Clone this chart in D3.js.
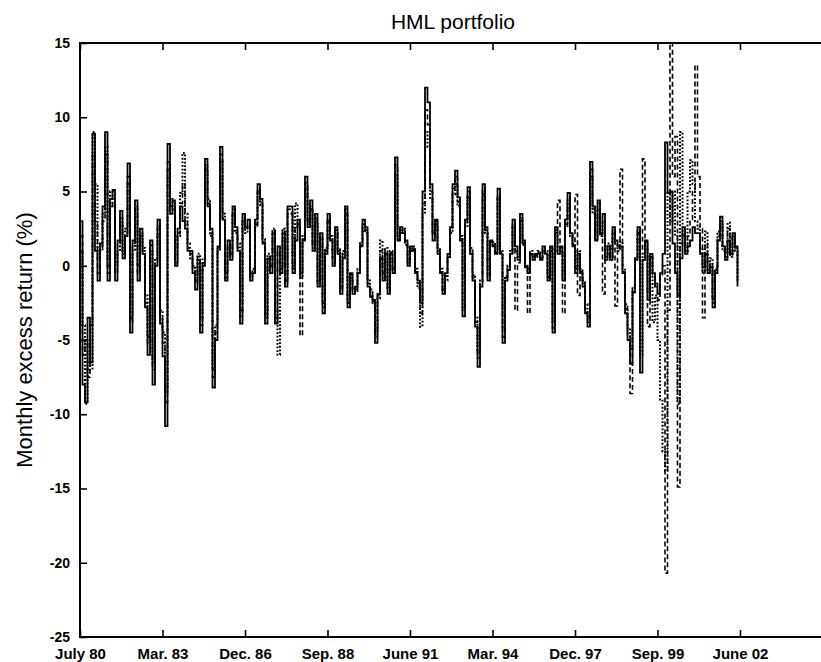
<!DOCTYPE html>
<html>
<head>
<meta charset="utf-8">
<script src="https://cdn.jsdelivr.net/npm/d3@7"></script>
<style>
  body { margin: 0; background: #fff; }
  svg text { fill: #000; }
</style>
</head>
<body>
<svg id="chart" width="821" height="662"></svg>
<script>
// Month positions of the labelled x ticks (months since July 1980) and their labels
const tickMonths = [0, 33, 66, 99, 132, 165, 198, 231, 264];
const tickLabels = ["July 80", "Mar. 83", "Dec. 86", "Sep. 88", "June 91", "Mar. 94", "Dec. 97", "Sep. 99", "June 02"];
const yTicks = [15, 10, 5, 0, -5, -10, -15, -20, -25];

// Monthly excess returns (%) of the HML portfolio, July 1980 onwards
const seriesSolid = [
  3.0, -8.0, -9.2, -3.5, -6.5, 8.9, 1.0, -1.0, 1.5, 4.0, 9.0, -1.0,
  4.5, 5.1, -1.0, 1.7, 3.7, 0.5, 2.0, 6.9, -4.5, 1.7, 4.4, -1.0,
  2.5, 0.8, -2.8, -6.0, 1.7, -8.0, 0.0, 3.1, -3.9, -6.1, -10.8, 8.2,
  3.5, 4.4, 0.0, 2.5, 4.0, 3.0, 2.5, 1.0, 1.0, -0.5, -1.6, 0.4,
  -4.5, 0.0, 7.2, 4.0, 2.5, -8.2, -5.0, 1.3, 8.0, 3.1, -1.0, 1.7,
  0.4, 4.0, 2.6, 1.0, -3.9, 3.5, 2.6, 3.1, -1.0, -0.5, 3.1, 5.5,
  4.5, 1.5, -3.9, 0.5, -0.5, 2.2, -3.9, 1.3, -0.5, 2.2, -1.4, 4.0,
  4.0, -0.5, 1.7, 3.1, -0.5, 1.7, 6.0, 2.6, 4.4, 1.0, 3.5, -1.4,
  2.2, -3.2, 0.8, 3.5, 1.7, 0.0, 2.6, 0.8, -1.9, 0.5, 4.0, -2.8,
  -0.5, -1.9, -1.4, -0.5, 1.3, 3.1, 2.6, -1.4, -2.1, -2.3, -5.2, -1.9,
  0.5, -1.0, 0.8, -1.9, 0.8, -0.5, 7.3, 1.7, 2.6, 2.2, 1.7, 0.0,
  1.3, 1.0, -0.5, -1.0, -2.5, 5.0, 12.0, 11.0, 5.5, 1.7, 3.1, 0.8,
  -0.5, -1.9, -0.5, 0.8, 2.6, 5.5, 6.4, 4.6, 1.7, -3.4, 3.1, 5.3,
  0.8, -1.0, -4.1, -6.8, -1.4, 5.5, 2.6, -1.0, 1.7, 1.3, 0.8, 5.2,
  0.8, -5.2, -1.0, -0.3, 0.8, 3.1, 1.3, 0.4, 3.5, 1.7, -0.1, -0.5,
  0.8, 0.4, 0.8, 0.8, 0.4, 1.3, 0.8, -1.0, 1.3, -4.5, 2.6, 0.8,
  1.3, -1.0, 3.1, 4.9, 2.2, 1.3, -0.5, 0.8, -0.5, -1.4, -3.2, -4.1,
  7.0, 4.0, 1.7, 4.4, 2.2, 3.5, 0.4, 1.3, 0.4, 2.6, 1.7, 1.3,
  1.3, -0.5, -3.2, -5.0, -6.6, -1.8, 0.4, 2.6, -7.2, 0.4, 1.7, -2.3,
  0.8, -0.5, -1.4, -1.9, -0.5, 0.8, 8.3, 4.9, 5.0, 1.5, -0.5, -2.0,
  0.5, 2.6, 0.8, 1.3, 1.7, 2.6, 2.2, 2.2, 0.8, -0.1, 0.8, -0.5,
  -0.1, -2.8, -0.5, 1.7, 3.3, 1.3, 0.4, 1.7, 0.8, 2.2, 1.3, -1.4
];

const seriesDotted = [
  1.0, -4.0, -9.3, -5.0, -7.0, 9.0, 5.5, 0.5, 1.0, 3.5, 8.0, 0.0,
  5.0, 4.0, 0.0, 1.0, 3.0, 1.0, 2.5, 5.5, -3.5, 1.0, 3.8, 0.0,
  2.0, 1.2, -2.0, -4.8, 1.0, -6.5, 0.5, 2.5, -3.0, -4.5, -8.5, 6.5,
  4.5, 3.8, 0.5, 2.0, 4.9, 7.6, 3.5, 1.5, 0.5, 0.0, -1.0, 0.8,
  -3.5, 0.5, 6.5, 4.5, 2.0, -7.0, -4.0, 1.0, 7.0, 3.5, -0.5, 1.2,
  0.8, 3.5, 2.2, 1.5, -3.0, 3.0, 2.2, 2.6, -0.5, -0.2, 2.6, 5.0,
  4.0, 1.8, -3.2, 0.8, 0.0, 2.5, -3.0, -6.0, -0.2, 2.5, -1.0, 3.5,
  3.5, 0.0, 4.2, 2.6, -0.8, 2.0, 5.2, 3.0, 3.8, 1.5, 3.0, -1.0,
  1.8, -2.5, 1.2, 3.0, 2.0, 0.5, 2.2, 1.2, -1.5, 1.0, 3.5, -2.2,
  -0.8, -1.5, -1.8, -0.2, 1.6, 2.6, 2.2, -1.0, -1.6, -2.6, -4.5, -2.2,
  1.7, -0.5, 1.2, -1.5, 1.0, -0.2, 6.2, 2.0, 2.2, 2.5, 1.4, 0.4,
  1.0, 1.3, -0.2, -1.5, -4.1, 3.5, 9.0, 8.0, 4.5, 2.2, 2.8, 1.2,
  -0.2, -1.6, -1.0, 0.5, 2.2, 4.8, 5.5, 4.0, 2.0, -2.8, 2.6, 4.6,
  1.2, -0.6, -3.5, -5.8, -1.0, 4.8, 2.2, -0.6, 1.4, 1.6, 1.0, 4.5,
  1.0, -4.2, -0.7, 0.0, 1.0, 2.6, 1.0, 0.6, 3.0, 1.4, 0.0, -0.2,
  1.0, 0.6, 0.6, 1.0, 0.6, 1.0, 1.0, -0.7, 1.0, -3.8, 2.2, 1.0,
  1.0, -0.6, 2.6, 4.2, 2.0, 1.5, -0.2, 1.0, -0.2, -1.0, -2.6, -3.5,
  6.0, 3.5, 2.0, 3.8, 2.0, 3.0, 0.8, 1.5, 0.6, 2.2, 1.5, 1.0,
  1.6, -0.2, -2.6, -4.2, -5.6, -1.4, 0.6, 2.2, -6.0, 0.8, 1.4, -1.8,
  0.5, -3.8, -2.0, -5.0, -9.0, -12.5, -13.8, 5.0, 3.0, 5.0, 2.0, -9.3,
  9.0, 2.0, 1.0, 5.0, 7.1, 5.5, 3.0, 2.5, 1.2, -0.5, 2.3, 0.0,
  0.5, -2.2, -0.2, 2.3, 2.8, 1.0, 0.8, 2.9, 0.6, 1.8, 1.0, -1.0
];

const seriesDashed = [
  2.0, -6.0, -5.0, -7.5, -4.0, 7.5, 3.0, -0.5, 1.2, 3.0, 7.5, -0.5,
  4.0, 4.5, -0.5, 1.5, 3.2, 0.8, 2.2, 6.0, -3.8, 1.5, 4.0, -0.5,
  2.2, 1.0, -2.5, -5.2, 1.4, -7.0, 0.2, 2.8, -3.5, -5.2, -9.2, 7.0,
  4.0, 4.0, 0.2, 2.2, 4.2, 5.5, 3.0, 1.2, 0.8, -0.2, -1.2, 0.6,
  -4.0, 0.2, 6.8, 4.2, 2.2, -7.5, -4.5, 1.2, 7.5, 3.2, -0.8, 1.5,
  0.6, 3.8, 2.4, 1.2, -3.4, 3.2, 2.4, 2.8, -0.8, -0.4, 2.8, 5.2,
  4.2, 1.6, -3.5, 0.6, -0.2, 2.4, -3.5, 1.0, 0.0, 2.4, -1.2, 3.8,
  3.8, -0.2, 2.5, 2.8, -4.7, 1.8, 5.6, 2.8, 4.0, 1.2, 3.2, -1.2,
  2.0, -2.8, 1.0, 3.2, 1.8, 0.2, 2.4, 1.0, -1.7, 0.8, 3.8, -2.5,
  -0.6, -1.7, -1.6, -0.4, 1.4, 2.8, 2.4, -1.2, -1.8, -2.4, -4.8, -2.0,
  1.0, -0.8, 1.0, -1.7, 0.9, -0.4, 6.8, 1.8, 2.4, 2.4, 1.6, 0.2,
  1.2, 1.1, -0.4, -1.2, -3.2, 4.2, 10.5, 9.5, 5.0, 2.0, 3.0, 1.0,
  -0.4, -1.8, -0.7, 0.6, 2.4, 5.2, 6.0, 4.3, 1.8, -3.0, 2.8, 5.0,
  1.0, -0.8, -3.8, -6.2, -1.2, 5.2, 2.4, -0.8, 1.6, 1.4, 0.9, 4.8,
  0.9, -4.8, -0.8, -0.1, 0.9, 2.8, -3.0, 0.2, 3.2, 1.5, 0.0, -3.2,
  0.9, 0.5, 0.7, 0.9, 0.5, 1.2, 0.9, -0.8, 1.2, -4.2, 2.4, 4.4,
  1.2, -3.2, 2.8, 4.6, 2.1, 1.4, 4.8, -2.0, -0.4, -1.2, -2.9, -3.8,
  6.5, 3.8, 1.8, 4.2, 2.1, -1.9, 0.6, 1.4, 0.5, 2.4, -2.7, 1.2,
  6.5, -0.4, -2.9, -4.6, -8.6, -1.6, 0.5, 2.4, 1.0, 7.2, 1.6, -4.1,
  0.6, -0.6, -1.2, -2.3, -0.6, 0.0, -20.7, -3.0, 15.0, 6.0, 8.7, -14.9,
  1.5, 2.2, 1.0, 2.0, 3.0, 5.0, 13.5, 6.0, 2.5, -3.5, 1.5, -0.3,
  0.2, -2.5, -0.3, 2.0, 3.0, 1.2, 0.6, 2.5, 0.7, 2.0, 1.2, -1.2
];

const svg = d3.select("#chart");
const plot = { left: 80, right: 830, top: 43, bottom: 637 };

const x = d3.scaleLinear().domain([0, 300]).range([plot.left, plot.right]);
const y = d3.scaleLinear().domain([-25, 15]).range([plot.bottom, plot.top]);

svg.append("defs").append("clipPath").attr("id", "plot-clip")
  .append("rect")
  .attr("x", plot.left).attr("y", plot.top)
  .attr("width", plot.right - plot.left).attr("height", plot.bottom - plot.top);

// Step lines, one per series
const stairs = d3.line()
  .x((d, i) => x(i))
  .y(d => y(d))
  .curve(d3.curveStepAfter);

const lines = svg.append("g").attr("clip-path", "url(#plot-clip)");
lines.append("path").datum(seriesDashed)
  .attr("d", stairs).attr("fill", "none").attr("stroke", "#000")
  .attr("stroke-width", 1.6).attr("stroke-dasharray", "5,3");
lines.append("path").datum(seriesDotted)
  .attr("d", stairs).attr("fill", "none").attr("stroke", "#000")
  .attr("stroke-width", 2).attr("stroke-dasharray", "1.8,1.8");
lines.append("path").datum(seriesSolid)
  .attr("d", stairs).attr("fill", "none").attr("stroke", "#000")
  .attr("stroke-width", 1.8);

// Axes: ticks point into the plot box
const tickFont = "Liberation Sans, Arial, sans-serif";

const yAxis = svg.append("g")
  .attr("transform", `translate(${plot.left},0)`)
  .call(d3.axisLeft(y).tickValues(yTicks).tickSize(-7).tickPadding(10)
    .tickFormat(d => String(d)));
yAxis.select(".domain").remove();
yAxis.selectAll(".tick line").attr("stroke", "#000").attr("stroke-width", 1.6);
yAxis.selectAll(".tick text")
  .attr("font-family", tickFont).attr("font-size", 14).attr("font-weight", "bold");

const xAxis = svg.append("g")
  .attr("transform", `translate(0,${plot.bottom})`)
  .call(d3.axisBottom(x).tickValues(tickMonths).tickSize(-7)
    .tickFormat((d, i) => tickLabels[i]));
xAxis.select(".domain").remove();
xAxis.selectAll(".tick line").attr("stroke", "#000").attr("stroke-width", 1.6);
xAxis.selectAll(".tick text")
  .attr("font-family", tickFont).attr("font-size", 15).attr("font-weight", "bold")
  .attr("y", 22).attr("dy", 0);

const xTop = svg.append("g")
  .attr("transform", `translate(0,${plot.top})`)
  .call(d3.axisTop(x).tickValues(tickMonths).tickSize(-7).tickFormat(""));
xTop.select(".domain").remove();
xTop.selectAll(".tick line").attr("stroke", "#000").attr("stroke-width", 1.6);

// Plot box
svg.append("rect")
  .attr("x", plot.left).attr("y", plot.top)
  .attr("width", plot.right - plot.left).attr("height", plot.bottom - plot.top)
  .attr("fill", "none").attr("stroke", "#000").attr("stroke-width", 2);

// Title and axis label
svg.append("text")
  .attr("x", 453).attr("y", 29)
  .attr("text-anchor", "middle")
  .attr("font-family", "Liberation Sans, Arial, sans-serif").attr("font-size", 21)
  .text("HML portfolio");

svg.append("text")
  .attr("transform", `translate(32,${(plot.top + plot.bottom) / 2}) rotate(-90)`)
  .attr("text-anchor", "middle")
  .attr("font-family", "Liberation Sans, Arial, sans-serif").attr("font-size", 22)
  .text("Monthly excess return (%)");
</script>
</body>
</html>
